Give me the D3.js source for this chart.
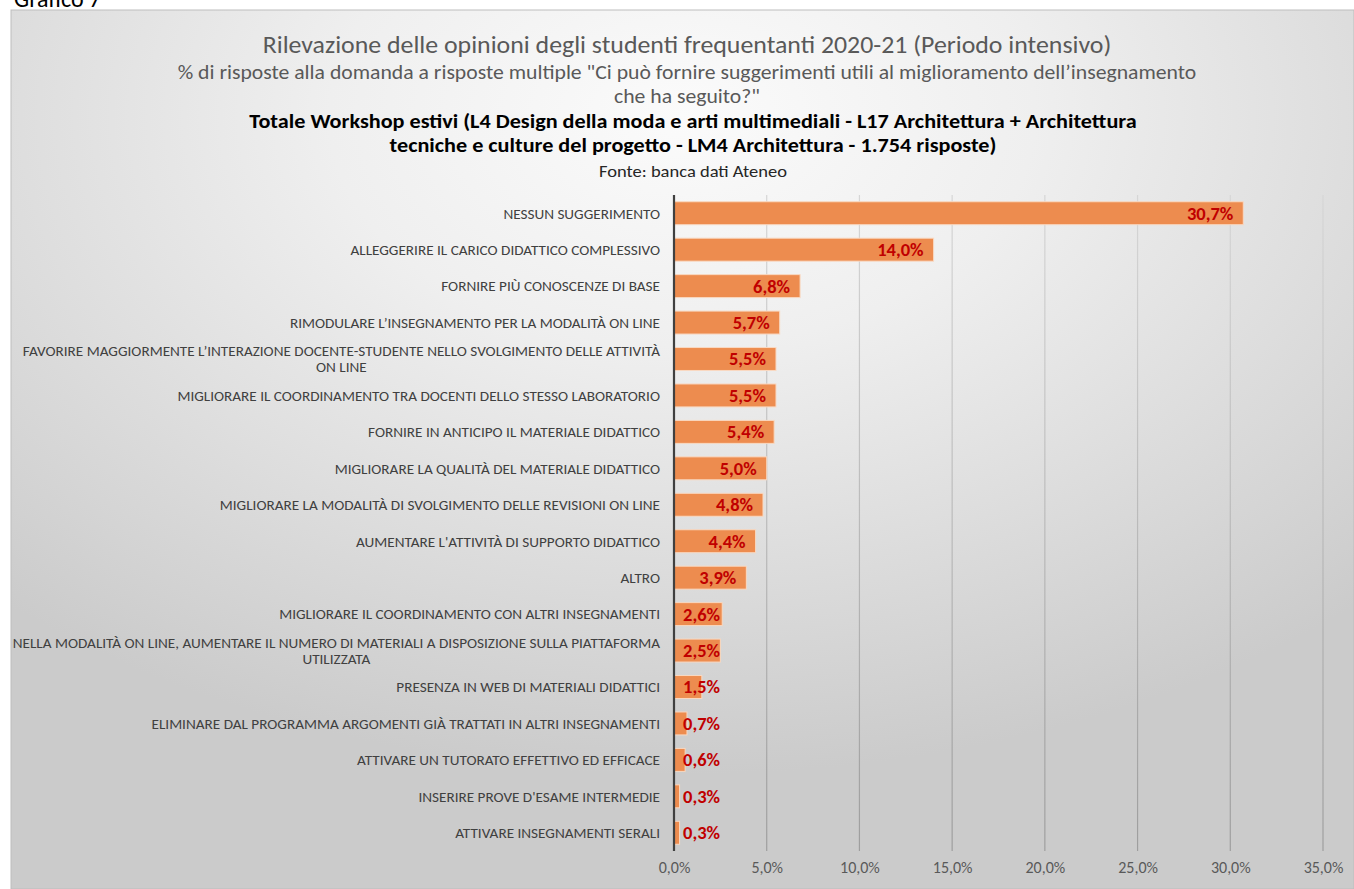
<!DOCTYPE html>
<html>
<head>
<meta charset="utf-8">
<script src="https://cdn.jsdelivr.net/npm/d3@7"></script>
<style>
  body { margin: 0; background: #fff; }
  svg { display: block; }
  text { font-family: Carlito, Calibri, "Liberation Sans Narrow", "Open Sans", sans-serif; }
</style>
</head>
<body>
<svg id="chart"></svg>
<script>
const width = 1354;
const height = 889;
const margin = {left: 674, right: 31, top: 195, bottom: 38};

// categories, top to bottom
const categories = [
  "NESSUN SUGGERIMENTO",
  "ALLEGGERIRE IL CARICO DIDATTICO COMPLESSIVO",
  "FORNIRE PIÙ CONOSCENZE DI BASE",
  "RIMODULARE L’INSEGNAMENTO PER LA MODALITÀ ON LINE",
  "FAVORIRE MAGGIORMENTE L’INTERAZIONE DOCENTE-STUDENTE NELLO SVOLGIMENTO DELLE ATTIVITÀ ON LINE",
  "MIGLIORARE IL COORDINAMENTO TRA DOCENTI  DELLO STESSO LABORATORIO",
  "FORNIRE IN ANTICIPO IL MATERIALE DIDATTICO",
  "MIGLIORARE LA QUALITÀ DEL MATERIALE DIDATTICO",
  "MIGLIORARE LA MODALITÀ DI SVOLGIMENTO DELLE REVISIONI ON LINE",
  "AUMENTARE L'ATTIVITÀ DI SUPPORTO DIDATTICO",
  "ALTRO",
  "MIGLIORARE IL COORDINAMENTO CON ALTRI INSEGNAMENTI",
  "NELLA MODALITÀ ON LINE, AUMENTARE IL NUMERO DI MATERIALI A DISPOSIZIONE SULLA PIATTAFORMA UTILIZZATA",
  "PRESENZA IN WEB DI MATERIALI DIDATTICI",
  "ELIMINARE DAL PROGRAMMA ARGOMENTI GIÀ TRATTATI IN ALTRI INSEGNAMENTI",
  "ATTIVARE UN TUTORATO EFFETTIVO ED EFFICACE",
  "INSERIRE PROVE D'ESAME INTERMEDIE",
  "ATTIVARE INSEGNAMENTI SERALI"
];

const values = [30.7, 14.0, 6.8, 5.7, 5.5, 5.5, 5.4, 5.0, 4.8, 4.4, 3.9, 2.6, 2.5, 1.5, 0.7, 0.6, 0.3, 0.3];

const xTicks = [0, 5, 10, 15, 20, 25, 30, 35];

const titleText = "Rilevazione delle opinioni degli studenti frequentanti 2020-21 (Periodo intensivo)";
const subtitleLines = [
  "% di risposte alla domanda a risposte multiple \"Ci può fornire suggerimenti utili al miglioramento dell’insegnamento",
  "che ha seguito?\""
];
const boldLines = [
  "Totale Workshop estivi (L4 Design della moda  e arti multimediali  - L17 Architettura + Architettura",
  "tecniche e culture del progetto - LM4 Architettura - 1.754 risposte)"
];
const sourceLine = "Fonte: banca dati Ateneo";

const it = d3.formatLocale({decimal: ",", thousands: ".", grouping: [3], currency: ["€", ""]});
const fmt = it.format(".1f");

const svg = d3.select('#chart')
  .attr('width', width)
  .attr('height', height);

// background with radial gradient
const defs = svg.append('defs');
const grad = defs.append('radialGradient')
  .attr('id', 'bg')
  .attr('cx', 0.5).attr('cy', 0.12).attr('r', 0.75);
grad.append('stop').attr('offset', '0%').attr('stop-color', '#fbfbfb');
grad.append('stop').attr('offset', '35%').attr('stop-color', '#efefef');
grad.append('stop').attr('offset', '100%').attr('stop-color', '#cbcbcb');

svg.append('text')
  .attr('x', 14).attr('y', 7)
  .attr('font-size', 24)
  .attr('fill', '#000')
  .text('Grafico 7');

svg.append('rect')
  .attr('x', 11).attr('y', 10)
  .attr('width', width - 11).attr('height', height - 10)
  .attr('fill', 'url(#bg)')
  .attr('stroke', '#bdbdbd')
  .attr('stroke-width', 1);

// titles (the original text is slightly wider than it is tall, hence the x stretch)
function titleText2(txt, x, y, size, sx, weight, color) {
  svg.append('text')
    .attr('transform', `translate(${x}, ${y}) scale(${sx}, 1)`)
    .attr('text-anchor', 'middle')
    .attr('font-size', size)
    .attr('font-weight', weight)
    .attr('fill', color)
    .text(txt);
}

titleText2(titleText, 687, 53, 23.5, 1.1, 'normal', '#595959');
subtitleLines.forEach((t, i) => {
  titleText2(t, 687, 79 + i * 24, 19.5, 1.113, 'normal', '#595959');
});
boldLines.forEach((t, i) => {
  titleText2(t, 693, 128 + i * 24, 20, 1.11, 'bold', '#000');
});
titleText2(sourceLine, 693, 177, 17, 1.09, 'normal', '#262626');

const chartWidth = width - margin.left - margin.right;
const chartHeight = height - margin.top - margin.bottom;

const g = svg.append('g')
  .attr('transform', `translate(${margin.left}, ${margin.top})`);

const xScale = d3.scaleLinear()
  .domain([0, 35])
  .range([0, chartWidth]);

const yScale = d3.scaleBand()
  .domain(categories)
  .range([0, chartHeight])
  .paddingInner(0.37)
  .paddingOuter(0.185);

// gridlines, fading towards the top
const gridGrad = defs.append('linearGradient')
  .attr('id', 'gridGrad')
  .attr('gradientUnits', 'userSpaceOnUse')
  .attr('x1', 0).attr('y1', 0).attr('x2', 0).attr('y2', chartHeight);
gridGrad.append('stop').attr('offset', '0%').attr('stop-color', '#d6d6d6');
gridGrad.append('stop').attr('offset', '100%').attr('stop-color', '#9e9e9e');

g.append('g')
  .selectAll('line')
  .data(xTicks.slice(1))
  .enter()
  .append('line')
  .attr('x1', d => xScale(d)).attr('x2', d => xScale(d))
  .attr('y1', 0).attr('y2', chartHeight)
  .attr('stroke', 'url(#gridGrad)')
  .attr('stroke-width', 1.2);

// x axis labels
const xAxis = d3.axisBottom(xScale)
  .tickValues(xTicks)
  .tickSize(0)
  .tickPadding(11)
  .tickFormat(d => fmt(d) + '%');

g.append('g')
  .attr('transform', `translate(0, ${chartHeight})`)
  .call(xAxis)
  .call(a => a.select('.domain').remove())
  .call(a => a.selectAll('text')
    .attr('font-size', 16)
    .attr('fill', '#595959')
    .style('font-family', 'Carlito, Calibri, "Liberation Sans Narrow", "Open Sans", sans-serif'));

// bars
g.append('g')
  .selectAll('rect')
  .data(values)
  .enter()
  .append('rect')
  .attr('x', 0)
  .attr('y', (d, i) => yScale(categories[i]))
  .attr('width', d => xScale(d))
  .attr('height', yScale.bandwidth())
  .attr('fill', '#ED8C4F')
  .attr('stroke', '#F9D9C2')
  .attr('stroke-width', 1);

// y axis line
g.append('line')
  .attr('x1', 0).attr('x2', 0)
  .attr('y1', 0).attr('y2', chartHeight)
  .attr('stroke', '#404040')
  .attr('stroke-width', 2.2);

// category labels (right aligned, wrapped and centred when too long)
const maxLabel = 652;
const labelG = g.append('g');
categories.forEach((c, i) => {
  const yc = yScale(c) + yScale.bandwidth() / 2;
  const t = labelG.append('text')
    .attr('font-size', 15.2)
    .attr('fill', '#404040')
    .attr('text-anchor', 'end')
    .attr('x', -14)
    .attr('y', yc)
    .attr('dy', '0.35em')
    .text(c);
  if (t.node().getComputedTextLength() > maxLabel) {
    const words = c.split(' ');
    let line1 = [];
    let k = 0;
    for (; k < words.length; k++) {
      t.text(line1.concat(words[k]).join(' '));
      if (t.node().getComputedTextLength() > maxLabel) break;
      line1.push(words[k]);
    }
    const l1 = line1.join(' ');
    const l2 = words.slice(k).join(' ');
    t.text(l1);
    const w1 = t.node().getComputedTextLength();
    t.text('')
      .attr('text-anchor', 'middle')
      .attr('x', -14 - w1 / 2);
    t.append('tspan').attr('x', -14 - w1 / 2).attr('y', yc - 8).attr('dy', '0.35em').text(l1);
    t.append('tspan').attr('x', -14 - w1 / 2).attr('y', yc + 8).attr('dy', '0.35em').text(l2);
  }
});

// data labels: inside end, pushed right of the axis when the bar is too short
const dl = g.append('g');
values.forEach((v, i) => {
  const t = dl.append('text')
    .attr('font-size', 18.5)
    .attr('font-weight', 'bold')
    .attr('fill', '#C00000')
    .attr('y', yScale(categories[i]) + yScale.bandwidth() / 2)
    .attr('dy', '0.35em')
    .text(fmt(v) + '%');
  const w = t.node().getComputedTextLength();
  const xs = Math.max(xScale(v) - 10 - w, 9);
  t.attr('x', xs);
});
</script>
</body>
</html>
